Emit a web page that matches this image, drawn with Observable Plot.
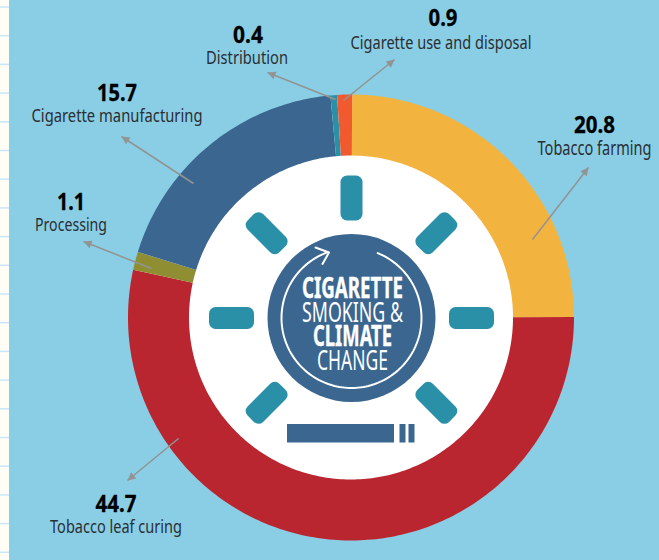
<!DOCTYPE html>
<html>
<head>
<meta charset="utf-8">
<style>
  html, body { margin: 0; padding: 0; background: #89cee4; }
  svg { display: block; }
</style>
<script src="https://cdn.jsdelivr.net/npm/d3@7"></script>
<script src="https://cdn.jsdelivr.net/npm/@observablehq/plot@0.6"></script>
</head>
<body>
<div id="chart"></div>
<script>
// Lifecycle stages of a cigarette, clockwise from twelve o'clock.
const stages = ["Tobacco farming", "Tobacco leaf curing", "Processing", "Cigarette manufacturing", "Distribution", "Cigarette use and disposal"];
const shares = [20.8, 44.7, 1.1, 15.7, 0.4, 0.9];
const stageColors = ["#f3b43f", "#b9262f", "#8f8e33", "#3a668f", "#2a90a8", "#f15a2f"];
const badgeBold = ["CIGARETTE", "CLIMATE"];
const badgeLight = ["SMOKING &", "CHANGE"];

// Annotation layout, in page units.
const labelX = [594, 115.5, 70.5, 116.5, 246.5, 440.5];
const valueX = [594, 115.5, 70.5, 116.5, 247.5, 442.5];
const valueBaseline = [132, 511, 209, 100, 42, 25];
const nameBaseline = [154, 532, 230.5, 121, 63, 48];
const arrowFrom = [[532, 239], [178, 438], [151, 268], [193, 183], [335, 99], [343, 100]];
const arrowTip = [[588, 167], [127, 480], [83, 241], [121, 136], [267, 72], [394, 59]];
const boldBaseline = [297, 345.5];
const lightBaseline = [321.5, 369];

// Condensed setting widths for the text runs.
const runWidths = new Map([
  ["CIGARETTE", 101], ["SMOKING &", 101], ["CLIMATE", 79], ["CHANGE", 71],
  ["Tobacco farming", 114], ["Tobacco leaf curing", 132], ["Processing", 72],
  ["Cigarette manufacturing", 171], ["Distribution", 82], ["Cigarette use and disposal", 181],
  ["20.8", 41], ["44.7", 41], ["1.1", 28], ["15.7", 40], ["0.4", 30], ["0.9", 29]
]);

const WIDTH = 659, HEIGHT = 560;
const cx = 351, cy = 317.5, rOuter = 223, rInner = 162;
const polar = (deg, r) => {
  const a = deg * Math.PI / 180;
  return [cx + r * Math.sin(a), cy - r * Math.cos(a)];
};

// Ring segments: each stage becomes a band between the inner and outer circles.
const total = d3.sum(shares);
const ring = [];
let start = 0.3;
stages.forEach((stage, i) => {
  const sweep = shares[i] / total * 360;
  const n = Math.max(2, Math.ceil(sweep));
  for (let k = 0; k <= n; ++k) {
    const deg = start + sweep * k / n;
    const [x1, y1] = polar(deg, rInner);
    const [x2, y2] = polar(deg, rOuter);
    ring.push({stage, x1, y1, x2, y2});
  }
  start += sweep;
});

// Seven rounded bars around the badge; the cigarette takes the eighth place.
const rayAngles = [0, 45, 90, 135, 225, 270, 315];
const rayHalfLength = 22.5 - 6.5, rayHalfWidth = 11 - 6.5;
const rays = rayAngles.flatMap(deg => {
  const [mx, my] = polar(deg, 120);
  const a = deg * Math.PI / 180;
  const ux = Math.sin(a), uy = -Math.cos(a), vx = -uy, vy = ux;
  return [[1, 1], [1, -1], [-1, -1], [-1, 1]].map(([s, t]) => ({
    deg,
    x: mx + s * rayHalfLength * ux + t * rayHalfWidth * vx,
    y: my + s * rayHalfLength * uy + t * rayHalfWidth * vy
  }));
});

// Circular arrow inside the badge.
const loop = d3.range(22, 341, 2).map(deg => polar(deg, 70));
const chevron = [[315, 247], [328.5, 252], [322, 263.5]];

// Filled triangular heads for the leader arrows.
const heads = arrowTip.flatMap(([tx, ty], i) => {
  const [fx, fy] = arrowFrom[i];
  const len = Math.hypot(tx - fx, ty - fy);
  const ux = (tx - fx) / len, uy = (ty - fy) / len;
  return [[0, 0], [-8, 4], [-8, -4]].map(([a, b]) => ({
    i, x: tx + a * ux - b * uy, y: ty + a * uy + b * ux
  }));
});

const sheetLines = d3.range(0, 20).map(k => 6.5 + k * 28.7);
const face = "'Noto Sans', sans-serif";
const badgeText = {x: cx + 1, text: d => d, fill: "white", fontFamily: face, fontSize: 28, textAnchor: "middle", lineAnchor: "bottom"};

const chart = Plot.plot({
  width: WIDTH,
  height: HEIGHT,
  margin: 0,
  style: {background: "#89cee4"},
  x: {domain: [0, WIDTH], range: [0, WIDTH], axis: null},
  y: {domain: [0, HEIGHT], range: [0, HEIGHT], axis: null},
  color: {domain: stages, range: stageColors},
  marks: [
    // Paper edge showing down the left side.
    Plot.rect([0], {x1: 0, x2: 9, y1: 0, y2: HEIGHT, fill: "#fffdf5"}),
    Plot.ruleY(sheetLines, {x1: 0, x2: 9, stroke: "#c8e6f7", strokeWidth: 1.5}),

    Plot.dot([0], {x: cx, y: cy, r: rOuter - 1, fill: "white"}),
    Plot.area(ring, {x1: "x1", y1: "y1", x2: "x2", y2: "y2", z: "stage", fill: "stage"}),

    // Badge
    Plot.line(rays, {x: "x", y: "y", z: "deg", curve: "linear-closed", fill: "#2a90a8", stroke: "#2a90a8", strokeWidth: 13, strokeLinejoin: "round"}),
    Plot.dot([0], {x: cx, y: cy, r: 84, fill: "#3a668f"}),
    Plot.line(loop, {x: d => d[0], y: d => d[1], stroke: "white", strokeWidth: 2}),
    Plot.line(chevron, {x: d => d[0], y: d => d[1], stroke: "white", strokeWidth: 2}),
    Plot.rect([[287, 394], [399.5, 405.5], [408.5, 414.5]], {x1: d => d[0], x2: d => d[1], y1: 424, y2: 442.5, fill: "#3a668f"}),

    Plot.text(badgeBold, {...badgeText, y: (d, i) => boldBaseline[i], fontWeight: 700, stroke: "white", strokeWidth: 0.4}),
    Plot.text(badgeLight, {...badgeText, y: (d, i) => lightBaseline[i], fontWeight: 400}),

    // Leader arrows
    Plot.link(stages, {x1: (d, i) => arrowFrom[i][0], y1: (d, i) => arrowFrom[i][1], x2: (d, i) => arrowTip[i][0], y2: (d, i) => arrowTip[i][1], stroke: "#939393", strokeWidth: 1.5}),
    Plot.line(heads, {x: "x", y: "y", z: "i", curve: "linear-closed", fill: "#939393", stroke: "none"}),

    // Stage labels
    Plot.text(shares, {x: (d, i) => valueX[i], y: (d, i) => valueBaseline[i], text: d => d.toFixed(1), fill: "#000", stroke: "#000", strokeWidth: 0.3, fontFamily: face, fontWeight: 700, fontSize: 23.5, textAnchor: "middle", lineAnchor: "bottom"}),
    Plot.text(stages, {x: (d, i) => labelX[i], y: (d, i) => nameBaseline[i], text: d => d, fill: "#2b2f33", fontFamily: face, fontSize: 19, textAnchor: "middle", lineAnchor: "bottom"})
  ]
});
document.getElementById("chart").appendChild(chart);

// Squeeze each run horizontally to its condensed width, about its anchor.
const condense = () => chart.querySelectorAll("text").forEach(t => {
  const w = runWidths.get(t.textContent);
  if (!w) return;
  const base = t.dataset.base ?? (t.dataset.base = t.getAttribute("transform") || "");
  t.setAttribute("transform", base);
  t.setAttribute("transform", `${base} scale(${w / t.getComputedTextLength()},1)`);
});
condense();
if (document.fonts && document.fonts.ready) document.fonts.ready.then(condense);
</script>
</body>
</html>
